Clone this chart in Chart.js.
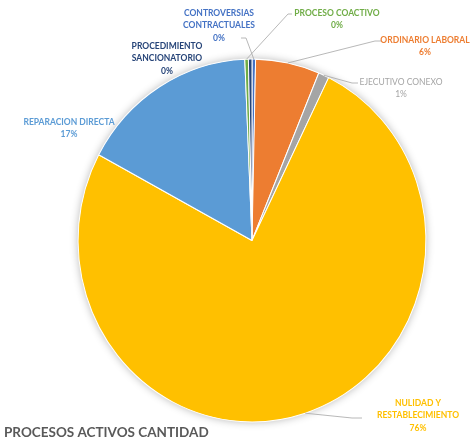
<!DOCTYPE html>
<html>
<head>
<meta charset="utf-8">
<script src="https://cdn.jsdelivr.net/npm/chart.js@4"></script>
<style>
  html, body { margin: 0; padding: 0; background: #fff; }
  #wrap { width: 470px; height: 443px; position: relative; }
</style>
</head>
<body>
<div id="wrap"><canvas id="myChart" width="470" height="443"></canvas></div>
<script>
// procesos activos por tipo (cantidad)
const categorias = ['CONTROVERSIAS CONTRACTUALES', 'ORDINARIO LABORAL', 'EJECUTIVO CONEXO',
  'NULIDAD Y RESTABLECIMIENTO', 'REPARACION DIRECTA', 'PROCESO COACTIVO', 'PROCEDIMIENTO SANCIONATORIO'];
const cantidad = [1, 18, 3, 229, 50, 1, 1];
const etiquetas = [
  ['CONTROVERSIAS', 'CONTRACTUALES'],
  ['ORDINARIO LABORAL'],
  ['EJECUTIVO CONEXO'],
  ['NULIDAD Y', 'RESTABLECIMIENTO'],
  ['REPARACION DIRECTA'],
  ['PROCESO COACTIVO'],
  ['PROCEDIMIENTO', 'SANCIONATORIO']
];
const colores = ['#4472C4', '#ED7D31', '#A5A5A5', '#FFC000', '#5B9BD5', '#70AD47', '#264478'];

// where each label block sits, and the elbow of its leader line (null = no line)
const labelPos = [
  { x: 219, y: 13, line: [[241, 38], [246, 38]] },
  { x: 425, y: 40, line: [[381, 41], [375, 41]] },
  { x: 401, y: 82, line: [[358, 83], [352, 83]] },
  { x: 418, y: 403, line: [[362, 418], [352, 418]] },
  { x: 69, y: 122, line: null },
  { x: 337, y: 13, line: [[292, 14], [288, 14]] },
  { x: 167, y: 46, line: null }
];

// the pie is drawn slightly taller than wide
const squash = { x: 0.98, y: 1.022 };

const total = cantidad.reduce((a, b) => a + b, 0);

const pieDecor = {
  id: 'pieDecor',
  beforeDatasetsDraw(chart) {
    const arc = chart.getDatasetMeta(0).data[0];
    const ctx = chart.ctx;
    ctx.save();
    if (!arc) return;
    ctx.translate(arc.x, arc.y);
    ctx.scale(squash.x, squash.y);
    ctx.translate(-arc.x, -arc.y);
    // soft glow round the pie
    ctx.save();
    ctx.shadowColor = 'rgba(0,0,0,0.3)';
    ctx.shadowBlur = 8;
    ctx.fillStyle = '#fff';
    ctx.beginPath();
    ctx.arc(arc.x, arc.y, arc.outerRadius, 0, Math.PI * 2);
    ctx.fill();
    ctx.restore();
  },
  afterDatasetsDraw(chart) {
    const ctx = chart.ctx;
    ctx.restore();
    const arcs = chart.getDatasetMeta(0).data;
    ctx.save();
    arcs.forEach(function (arc, i) {
      const p = labelPos[i];
      if (p.line) {
        const mid = (arc.startAngle + arc.endAngle) / 2;
        const ex = arc.x + Math.cos(mid) * arc.outerRadius * squash.x;
        const ey = arc.y + Math.sin(mid) * arc.outerRadius * squash.y;
        ctx.strokeStyle = '#A6A6A6';
        ctx.lineWidth = 0.8;
        ctx.beginPath();
        ctx.moveTo(p.line[0][0], p.line[0][1]);
        ctx.lineTo(p.line[1][0], p.line[1][1]);
        ctx.lineTo(ex, ey);
        ctx.stroke();
      }
      const lines = etiquetas[i].concat([Math.round(cantidad[i] / total * 100) + '%']);
      ctx.fillStyle = colores[i];
      ctx.font = (i === 2 ? '' : 'bold ') + '8.5px Lato';
      ctx.textAlign = 'center';
      ctx.textBaseline = 'middle';
      lines.forEach(function (t, k) {
        ctx.fillText(t, p.x, p.y + k * 12.5);
      });
    });

    ctx.fillStyle = '#595959';
    ctx.font = 'bold 13.5px Lato';
    ctx.textAlign = 'left';
    ctx.textBaseline = 'middle';
    ctx.fillText('PROCESOS ACTIVOS CANTIDAD', 4, 433);
    ctx.restore();
  }
};

let myChart = document.getElementById('myChart').getContext('2d');
let chart = new Chart(myChart, {
  type: 'pie',
  data: {
    labels: categorias,
    datasets: [{
      data: cantidad,
      backgroundColor: colores,
      borderColor: '#ffffff',
      borderWidth: 1
    }]
  },
  options: {
    responsive: false,
    animation: false,
    layout: { padding: { left: 74, right: 40, top: 62, bottom: 24 } },
    plugins: {
      legend: { display: false },
      tooltip: { enabled: false }
    }
  },
  plugins: [pieDecor]
});
</script>
</body>
</html>
